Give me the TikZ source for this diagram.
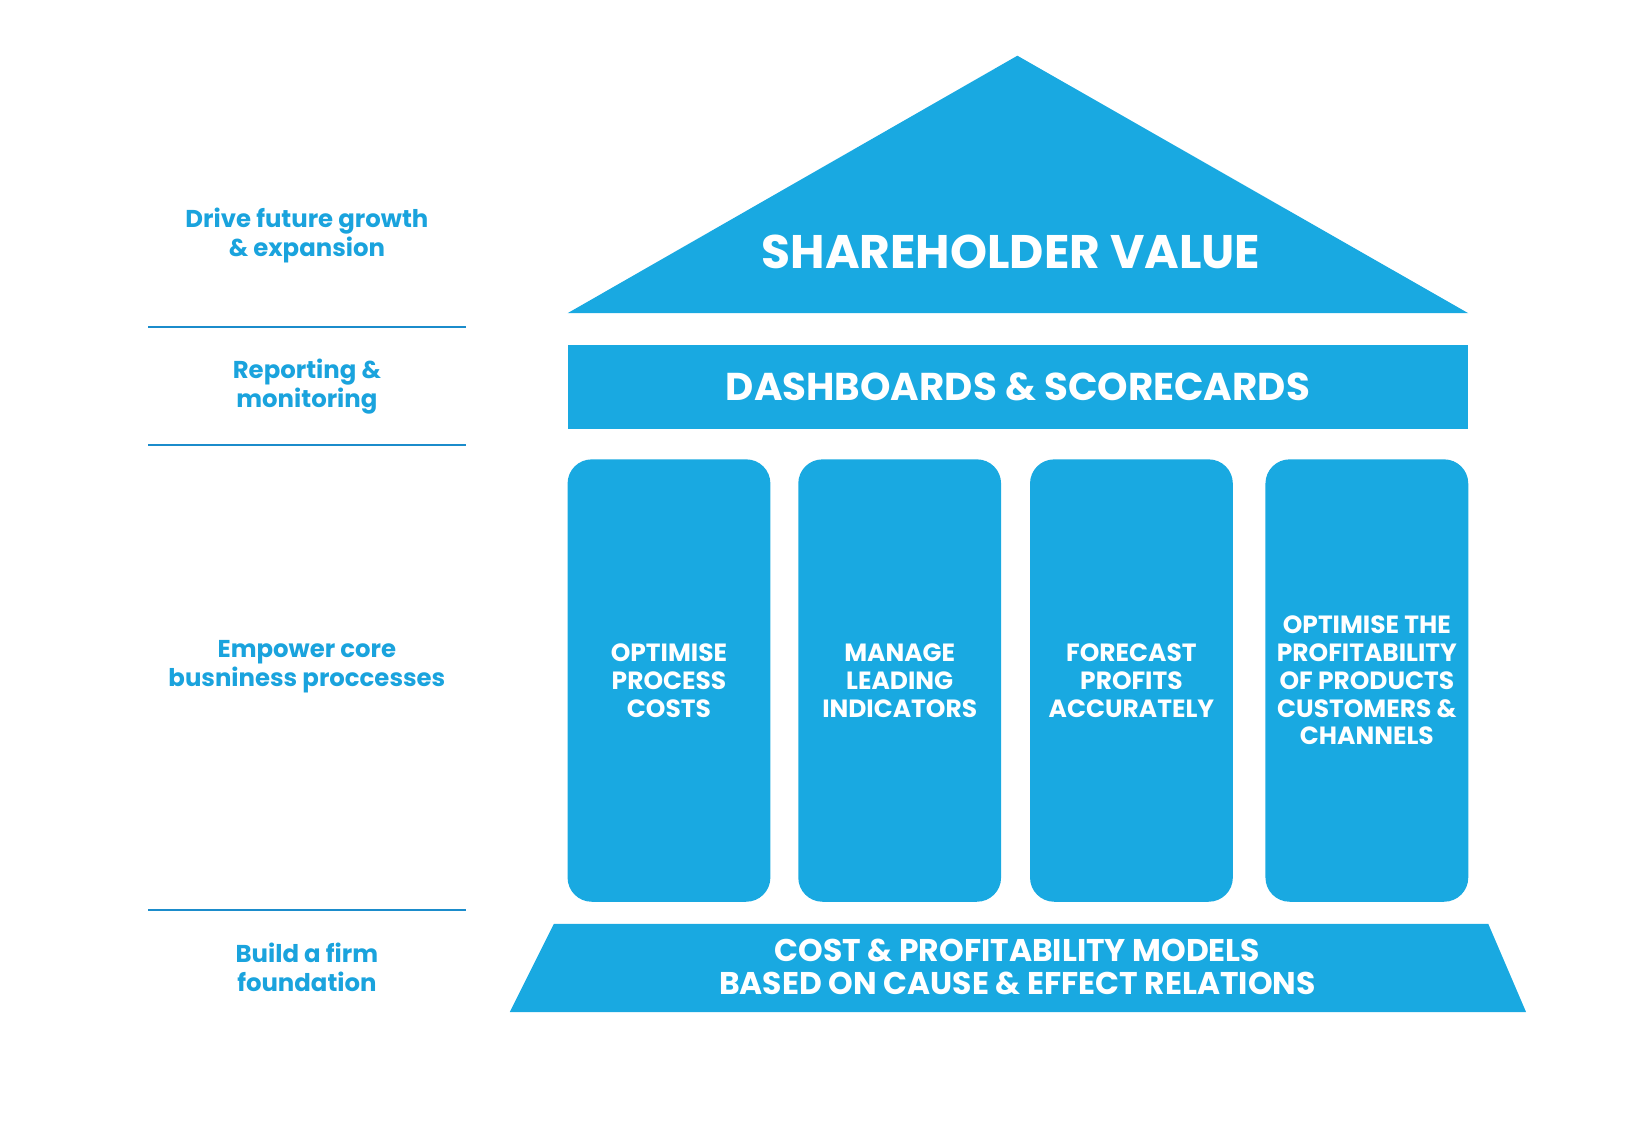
\documentclass[tikz,border=0pt]{standalone}
\usepackage{fontspec}
\setmainfont{Poppins}
\definecolor{houseblue}{HTML}{19A9E1}
\definecolor{labelblue}{HTML}{1AA3DD}
\definecolor{ruleblue}{HTML}{1B8CCB}
\newcommand\tightlines{\lineskiplimit-10pt\relax}

\begin{document}
\begin{tikzpicture}[x=0.02cm,y=-0.02cm]
	\tikzstyle{every node}=[font=\bfseries, inner sep=0pt]
	\tikzstyle{housepart}=[fill=houseblue, text=white]
	\tikzstyle{pillar}=[housepart, rounded corners=0.46cm, minimum width=3.86cm, minimum height=8.42cm, align=center, font=\bfseries\fontsize{13.5}{15}\selectfont\tightlines]
	\tikzstyle{sidelabel}=[text=labelblue, align=center, font=\bfseries\fontsize{13.2}{15.6}\selectfont\tightlines]
	\tikzstyle{divider}=[ruleblue, line width=1.1pt]
	\useasboundingbox (0,0) rectangle (1568,1066);
	% roof
	\fill [houseblue] (540,298) -- (968,53) -- (1397,298) -- cycle;
	\node (roof) [text=white, font=\bfseries\fontsize{25.5}{30}\selectfont] at (962,240) {SHAREHOLDER VALUE};
	% beam
	\node (beam) [housepart, minimum width=17.14cm, minimum height=1.6cm, font=\bfseries\fontsize{21}{25}\selectfont] at (968.5,368) {DASHBOARDS \& SCORECARDS};
	% pillars
	\node (costs) [pillar] at (636.5,647.5) {OPTIMISE\\PROCESS\\COSTS};
	\node (indicators) [pillar] at (856,647.5) {MANAGE\\LEADING\\INDICATORS};
	\node (forecast) [pillar] at (1076.5,647.5) {FORECAST\\PROFITS\\ACCURATELY};
	\node (profitability) [pillar] at (1300.5,647.5) {OPTIMISE THE\\PROFITABILITY\\OF PRODUCTS\\CUSTOMERS \&\\CHANNELS};
	% foundation
	\fill [houseblue] (527,879) -- (1416,879) -- (1452,963) -- (485,963) -- cycle;
	\node (models) [text=white, align=center, font=\bfseries\fontsize{17}{18.2}\selectfont\tightlines] at (968,920) {COST \& PROFITABILITY MODELS\\BASED ON CAUSE \& EFFECT RELATIONS};
	% left side
	\node (growth) [sidelabel] at (292,224) {Drive future growth\\\& expansion};
	\node (reporting) [sidelabel] at (292,368) {Reporting \&\\monitoring};
	\node (empower) [sidelabel] at (292,634) {Empower core\\busniness proccesses};
	\node (firm) [sidelabel] at (292,920) {Build a firm\\foundation};
	\draw [divider] (141,311) -- (443,311);
	\draw [divider] (141,423) -- (443,423);
	\draw [divider] (141,866) -- (443,866);
\end{tikzpicture}
\end{document}
